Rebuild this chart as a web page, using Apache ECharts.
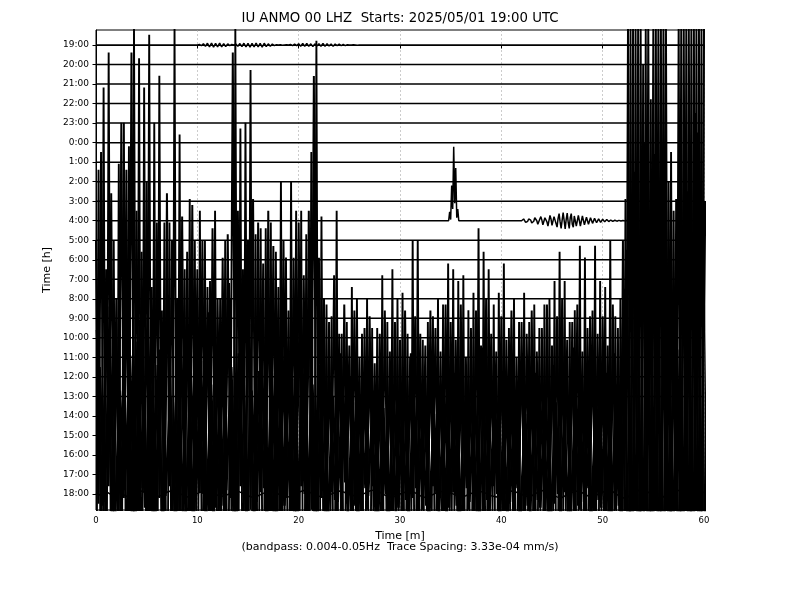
<!DOCTYPE html>
<html>
<head>
<meta charset="utf-8">
<script src="https://cdn.jsdelivr.net/npm/echarts@6/dist/echarts.min.js"></script>
<style>html,body{margin:0;padding:0;background:#fff}#c{width:800px;height:600px}</style>
</head>
<body>
<div id="c"></div>
<script>
// ---- data ----
const hours = ['19:00','20:00','21:00','22:00','23:00','0:00','1:00','2:00','3:00','4:00','5:00','6:00','7:00','8:00','9:00','10:00','11:00','12:00','13:00','14:00','15:00','16:00','17:00','18:00'];
const xTicks = [0, 10, 20, 30, 40, 50, 60];
const traceSpacing = 3.33; // amplitudes below in 1e-4 mm/s

// 17:00 trace: troughs at t = 0, 0.5, ... ; peaks at t = 0.25, 0.75, ...
const dTroughs = [-40,-35,-45,-30,-50,-38,-42,-55,-40,-48,-36,-44,-52,-33,-46,-39,-41,-57,-34,-49,-43,-37,-51,-45,-32,-47,-40,-54,-38,-44,-35,-50,-42,-46,-31,-53,-39,-45,-48,-36,-44,-52,-37,-41,-49,-34,-46,-43,-55,-38,-40,-47,-33,-51,-45,-39,-42,-56,-36,-48,-41,-35,-53,-44,-38,-50,-46,-32,-49,-43,-37,-54,-40,-45,-47,-34,-52,-39,-42,-48,-36,-51,-44,-38,-55,-41,-46,-33,-50,-43,-39,-47,-35,-53,-40,-45,-49,-37,-44,-52,-42,-36,-48,-55,-60,-58,-62,-57,-60,-59,-61,-56,-58,-50,-45,-60,-62,-58,-61,-57,-60];
const dPeaks = [52,66,72,40,53,60,56,76,71,66,75,60,68,43,43,76,58,35,47,40,45,40,33,45,30,40,30,76,59,60,69,41,42,42,43,38,50,37,50,45,45,41,55,74,44,29,27,45,24,26,32,30,24,30,25,25,34,26,35,30,31,24,40,40,23,26,27,30,29,36,35,33,34,28,31,42,38,35,29,31,36,25,30,26,31,26,29,25,29,30,33,38,33,26,28,39,37,27,39,33,32,40,27,30,47,76,76,76,76,64,76,76,76,55,47,76,76,76,76,76];

// 14:00 trace: peaks at t = 0, 0.5, ... ; troughs at t = 0.25, 0.75, ...
const aPeaks = [30,45,25,38,20,50,42,62,35,28,40,22,33,18,38,30,20,34,28,36,25,30,22,32,20,27,31,62,35,25,30,37,33,26,35,29,22,30,18,27,33,24,35,58,27,20,16,24,14,19,12,18,10,15,17,9,14,18,11,16,13,18,10,17,14,12,18,15,11,19,16,13,19,10,15,18,12,20,14,11,17,13,18,10,16,14,18,11,15,19,12,17,20,13,16,19,11,15,18,14,17,12,19,15,30,66,66,66,60,66,66,66,66,40,35,66,66,66,66,66,66];
const aTroughs = [-15,-20,-12,-22,-18,-14,-25,-16,-19,-13,-21,-17,-14,-23,-12,-18,-20,-15,-24,-16,-13,-19,-22,-15,-17,-21,-14,-18,-12,-20,-16,-23,-13,-19,-21,-15,-18,-14,-22,-17,-12,-20,-16,-24,-14,-18,-13,-21,-17,-15,-19,-14,-22,-16,-12,-20,-18,-15,-23,-13,-17,-21,-14,-19,-16,-22,-12,-18,-20,-15,-13,-19,-23,-16,-18,-14,-21,-17,-12,-20,-22,-15,-18,-13,-20,-16,-24,-14,-19,-17,-15,-21,-13,-18,-22,-16,-19,-12,-20,-14,-18,-23,-16,-40,-50,-45,-55,-48,-52,-44,-50,-46,-30,-25,-48,-55,-50,-47,-53,-49];

// 15:00 trace, every 0.5 min from 0.1 min
const bVals = [18,-12,22,-15,14,-10,25,-18,16,-9,20,-14,12,-16,24,-11,15,-13,19,-17,13,-10,21,-15,17,-12,26,-16,14,-11,19,-14,11,-9,22,-17,16,-12,13,-15,18,-10,24,-16,12,-13,9,-11,14,-8,10,-12,7,-9,13,-14,8,-10,11,-13,9,-11,14,-9,6,-12,12,-10,8,-14,13,-12,10,-9,7,-13,15,-11,9,-10,11,-14,8,-9,14,-12,10,-11,6,-13,12,-10,9,-14,15,-12,7,-9,13,-11,10,-13,14,-12,25,-30,45,-40,50,-45,48,-42,30,-25,20,-35,50,-45,55,-48,40];

// 16:00 trace, every 0.5 min from 0.35 min
const cVals = [15,-8,20,-12,11,-6,17,-14,23,-9,13,-11,18,-7,10,-13,21,-10,14,-8,16,-12,12,-9,19,-6,15,-13,22,-11,11,-8,17,-12,14,-10,20,-7,13,-14,16,-9,12,-11,18,-13,10,-8,13,-10,9,-12,14,-7,11,-10,8,-13,12,-9,15,-11,10,-8,13,-12,7,-10,11,-9,14,-13,9,-8,12,-11,16,-9,10,-12,13,-8,11,-12,7,-10,14,-9,12,-13,9,-11,15,-10,11,-8,13,-12,10,-9,14,-11,12,-13,35,-30,50,-45,40,-35,52,-48,28,-22,18,-30,45,-40,55,-50,30];

// 18:00 trace, every 0.5 min from 0
const eVals = [0.2,-0.3,0.4,-0.1,0.5,0.1,-0.4,-0.2,0.3,0.5,0.1,-0.3,-0.5,-0.2,0.3,0.6,0.3,-0.1,-0.5,-0.3,0.1,0.4,0.5,0.2,-0.2,-0.4,-0.1,0.3,0.5,0.1,-0.3,-0.6,-0.3,0.1,0.4,0.3,0,-0.3,-0.5,-0.1,0.3,0.6,0.4,-0.1,-0.4,-0.5,-0.2,0.2,0.5,0.3,-0.1,-0.3,-0.3,0.1,0.5,0.7,0.3,-0.2,-0.5,-0.4,0,0.3,0.5,0.2,-0.3,-0.6,-0.3,0.1,0.4,0.5,0.2,-0.2,-0.5,-0.3,0.1,0.3,0.4,0.1,-0.3,-0.5,-0.2,0.3,0.5,0.3,-0.1,-0.4,-0.3,0.2,0.6,0.4,-0.1,-0.5,-0.6,-0.1,0.3,0.5,0.2,-0.3,-0.4,-0.1,0.3,0.7,0.4,-0.2,-0.7,-0.5,0.1,0.6,0.8,0.3,-0.4,-0.8,-0.5,0.2,0.7,0.6,0,-0.5,-0.7,-0.3,0.3];

// 19:00 small wiggles, every 0.2 min from 10.0 min
const wiggle1900 = [0,0.1,-0.1,0.2,-0.2,0.3,-0.3,0.35,-0.35,0.3,-0.3,0.35,-0.3,0.25,-0.25,0.2,-0.1,0.1,0,0.15,-0.2,0.25,-0.25,0.3,-0.3,0.3,-0.35,0.3,-0.3,0.35,-0.3,0.3,-0.35,0.3,-0.25,0.2,-0.2,0.15,-0.1,0.05,0,0.05,-0.05,0,0.05,0,0.1,-0.1,0.15,-0.1,0.2,-0.2,0.25,-0.2,0.25,-0.2,0.2,-0.25,0.2,-0.15,0.2,-0.2,0.25,-0.2,0.2,-0.15,0.15,-0.2,0.15,-0.1,0.15,-0.1,0.1,-0.1,0.05,0,0,0.05,0,-0.05,0];

// 4:00 body-wave pulse, every 0.1 min from 34.8 min
const pulse0400 = [0,1.5,0.2,6,2,12.6,3,9,0.5,2,0];
// 4:00 surface wave, every 0.1 min from 42.0 min
const wave0400 = [0,0.15,0.3,0.1,-0.3,-0.4,-0.1,0.3,0.45,0.1,-0.4,
  -0.5,-0.1,0.5,0.6,0,-0.6,-0.5,0.3,0.7,0.1,
  -0.7,-0.5,0.5,0.8,-0.2,-0.9,0,0.9,0.3,-0.8,
  -0.6,0.7,0.9,-0.5,-1.1,0.4,1.2,-0.2,-1.3,0.1,
  1.4,0,-1.4,0.2,1.3,-0.3,-1.3,0.5,1.2,-0.6,
  -1.1,0.8,1.0,-0.9,-0.8,0.9,0.7,-0.9,-0.6,0.8,
  0.5,-0.7,-0.5,0.6,0.4,-0.6,-0.3,0.5,0.3,-0.45,
  -0.25,0.4,0.2,-0.35,-0.2,0.3,0.15,-0.3,-0.1,0.25,
  0.1,-0.2,-0.1,0.2,0.05,-0.15,-0.05,0.12,0.05,-0.1,
  0,0.08,0,-0.08,0,0.06,0,-0.05,0,0.04,
  0,-0.03,0,0.02,0,0,0,0];

// ---- build ----
function interleave(first, second) {
  const out = [];
  for (let k = 0; k < first.length; k++) {
    out.push(first[k]);
    if (k < second.length) out.push(second[k]);
  }
  return out;
}
function pts(idx, start, step, vals) {
  return vals.map((v, i) => [+(start + i * step).toFixed(3), -idx + v / traceSpacing]);
}
const loud = {
  19: pts(19, 0, 0.25, interleave(aPeaks, aTroughs)),
  20: pts(20, 0.1, 0.5, bVals),
  21: pts(21, 0.35, 0.5, cVals),
  22: pts(22, 0, 0.25, interleave(dTroughs, dPeaks)),
  23: pts(23, 0, 0.5, eVals)
};
const events = {
  0: [[10.0, 0.2, wiggle1900]],
  9: [[34.8, 0.1, pulse0400], [42.0, 0.1, wave0400]]
};
const loudWidth = { 19: 2.0, 20: 2.6, 21: 2.6, 22: 1.9 };
const series = [];
const lineBase = { type: 'line', showSymbol: false, symbol: 'none', silent: true, animation: false, clip: true };
[19, 20, 21, 22].forEach(i => series.push(Object.assign({}, lineBase, {
  name: hours[i], data: loud[i], lineStyle: { color: '#000', width: loudWidth[i] }
})));
series.push(Object.assign({}, lineBase, { name: hours[23], data: loud[23], lineStyle: { color: '#000', width: 1.5 } }));
hours.forEach((h, i) => {
  if (i >= 19) return;
  let data = [[0, -i]];
  (events[i] || []).forEach(ev => { data = data.concat(pts(i, ev[0], ev[1], ev[2])); });
  data.push([60, -i]);
  series.push(Object.assign({}, lineBase, { name: h, data: data, lineStyle: { color: '#000', width: 1.5 } }));
});

const hourPos = hours.map((_, i) => -i);
const font = 'DejaVu Sans';
const chart = echarts.init(document.getElementById('c'), null, { renderer: 'canvas' });
chart.setOption({
  backgroundColor: '#fff',
  animation: false,
  title: [
    { text: 'IU ANMO 00 LHZ  Starts: 2025/05/01 19:00 UTC', left: 'center', top: 12, padding: 0,
      textStyle: { fontFamily: font, fontSize: 13.3, fontWeight: 'normal', color: '#000' } },
    { text: '(bandpass: 0.004-0.05Hz  Trace Spacing: 3.33e-04 mm/s)', left: 'center', top: 542, padding: 0,
      textStyle: { fontFamily: font, fontSize: 11, fontWeight: 'normal', color: '#000' } }
  ],
  grid: { left: 96, right: 96, top: 30, bottom: 90, show: true, borderColor: '#000', borderWidth: 1, backgroundColor: 'transparent' },
  xAxis: {
    type: 'value', min: 0, max: 60, interval: 10,
    name: 'Time [m]', nameLocation: 'middle', nameGap: 21,
    nameTextStyle: { fontFamily: font, fontSize: 11, color: '#000' },
    axisLine: { show: true, lineStyle: { color: '#000', width: 1 } },
    axisTick: { show: true, inside: false, length: 3.5, lineStyle: { color: '#000' } },
    axisLabel: { fontFamily: font, fontSize: 8.5, color: '#000', margin: 6, showMinLabel: true, showMaxLabel: true },
    splitLine: { show: true, lineStyle: { color: '#aaa', width: 0.6, type: [2, 2] } }
  },
  yAxis: {
    type: 'value', min: -23.82, max: 0.77,
    name: 'Time [h]', nameLocation: 'middle', nameGap: 42, nameRotate: 90,
    nameTextStyle: { fontFamily: font, fontSize: 11, color: '#000' },
    axisLine: { show: true, lineStyle: { color: '#000', width: 1 } },
    axisTick: { show: true, inside: false, length: 3.5, customValues: hourPos, lineStyle: { color: '#000' } },
    axisLabel: { fontFamily: font, fontSize: 9, color: '#000', margin: 7, customValues: hourPos,
      formatter: v => hours[Math.round(-v)] },
    splitLine: { show: false }
  },
  series: series
});
</script>
</body>
</html>
